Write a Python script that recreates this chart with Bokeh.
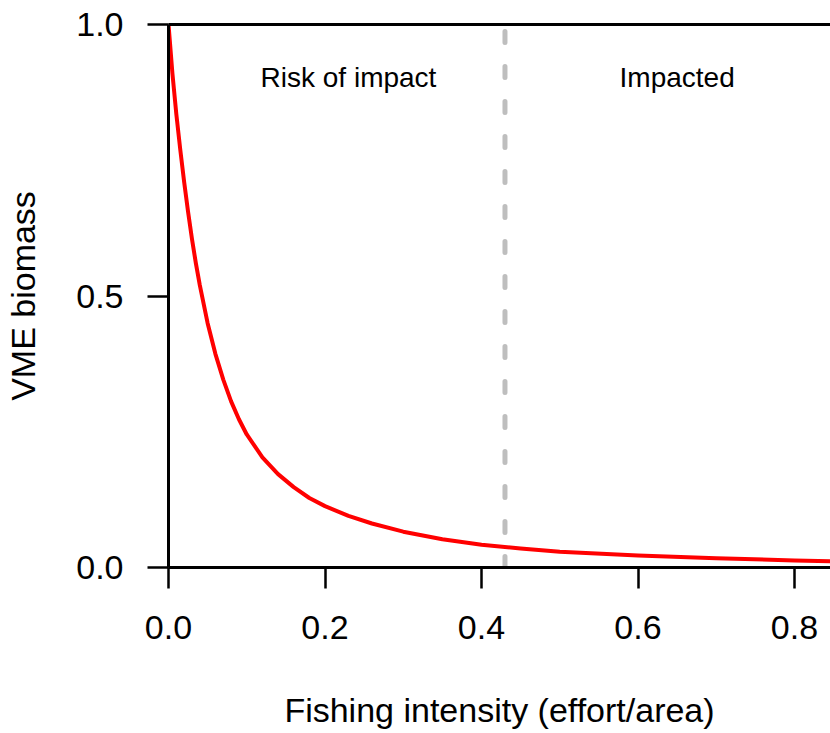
from bokeh.plotting import figure
from bokeh.models import Range1d, Label, FixedTicker, PrintfTickFormatter, LinearAxis
from bokeh.embed import file_html
from bokeh.resources import INLINE

# Values
intensity = [0.000, 0.005, 0.010, 0.015, 0.020, 0.025, 0.030, 0.035, 0.040,
             0.050, 0.060, 0.070, 0.080, 0.090, 0.100, 0.120, 0.140, 0.160,
             0.180, 0.200, 0.230, 0.260, 0.300, 0.350, 0.400, 0.450, 0.500,
             0.600, 0.700, 0.800, 0.846]
biomass = [1.000, 0.910, 0.835, 0.770, 0.710, 0.655, 0.605, 0.560, 0.520,
           0.450, 0.393, 0.346, 0.306, 0.273, 0.245, 0.203, 0.172, 0.148,
           0.128, 0.113, 0.095, 0.081, 0.066, 0.052, 0.042, 0.035, 0.029,
           0.022, 0.017, 0.013, 0.0115]
threshold = 0.43
x_ticks = [0.0, 0.2, 0.4, 0.6, 0.8]
y_ticks = [0.0, 0.5, 1.0]
zone_labels = ["Risk of impact", "Impacted"]
zone_label_x = [0.23, 0.65]

FONT = "Liberation Sans"

p = figure(width=830, height=733, output_backend="svg", toolbar_location=None,
           x_range=Range1d(0, 0.846), y_range=Range1d(0, 1.0),
           min_border_left=168, min_border_top=24, min_border_right=0,
           min_border_bottom=166)
p.outline_line_color = None
p.xgrid.visible = False
p.ygrid.visible = False
p.background_fill_color = "white"
p.border_fill_color = "white"

for ax, ticks in ((p.xaxis, x_ticks), (p.yaxis, y_ticks)):
    ax.ticker = FixedTicker(ticks=ticks)
    ax.formatter = PrintfTickFormatter(format="%.1f")
    ax.axis_line_width = 3
    ax.axis_line_color = "black"
    ax.major_tick_line_width = 2.5
    ax.major_tick_line_color = "black"
    ax.major_tick_out = 21
    ax.major_tick_in = 0
    ax.minor_tick_line_color = None
    ax.major_label_text_font = FONT
    ax.major_label_text_font_size = "34px"
    ax.major_label_text_color = "black"
    ax.axis_label_text_font = FONT
    ax.axis_label_text_font_size = "34px"
    ax.axis_label_text_font_style = "normal"
    ax.axis_label_text_color = "black"

p.xaxis.major_label_standoff = 27
p.yaxis.major_label_standoff = 24
p.xaxis.axis_label = "Fishing intensity (effort/area)"
p.yaxis.axis_label = "VME biomass"
p.xaxis.axis_label_standoff = 49
p.yaxis.axis_label_standoff = 31

# top line at 1.0 (bare axis line)
top = LinearAxis(ticker=FixedTicker(ticks=[]), axis_line_width=3,
                 axis_line_color="black", major_tick_line_color=None,
                 minor_tick_line_color=None, major_label_text_color=None)
p.add_layout(top, "above")

# threshold dashed line
p.line([threshold, threshold], [0, 1], line_color="#BEBEBE", line_width=5,
       line_dash="11 24", line_cap="round")

# response curve
p.line(intensity, biomass, line_color="#FF0000", line_width=4, line_join="round")

for txt, xx in zip(zone_labels, zone_label_x):
    p.add_layout(Label(x=xx, y=0.903, text=txt, text_align="center",
                       text_baseline="alphabetic", text_font=FONT,
                       text_font_size="28px", text_color="black"))

open("out.html", "w").write(file_html(p, INLINE))
